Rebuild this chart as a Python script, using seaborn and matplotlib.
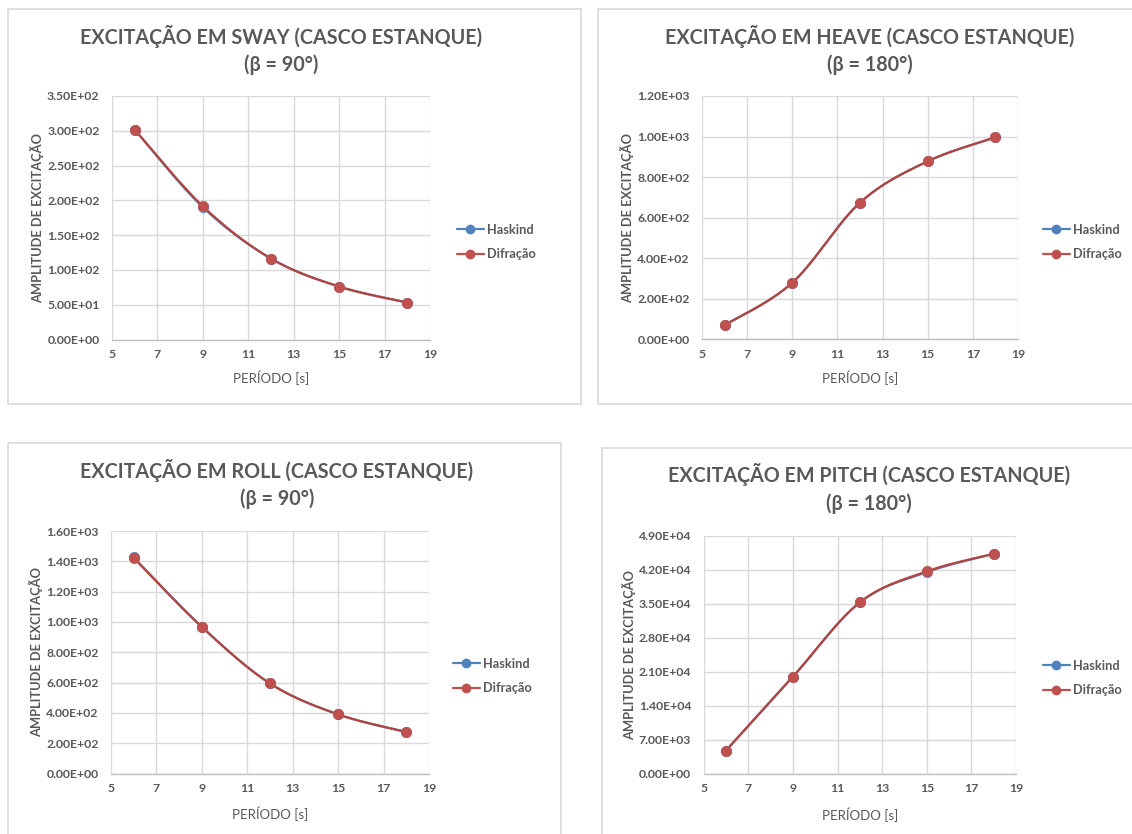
import numpy as np
import matplotlib
matplotlib.use("Agg")
import matplotlib.pyplot as plt
import seaborn as sns
from matplotlib.lines import Line2D
from matplotlib.patches import Rectangle
from matplotlib.ticker import FormatStrFormatter, MultipleLocator

# ---------------- data ----------------
periodo = [6, 9, 12, 15, 18]
x_ticks = [5, 7, 9, 11, 13, 15, 17, 19]

sway_haskind = [301.5, 190.0, 116.3, 76.1, 53.1]
sway_difracao = [301.6, 191.5, 116.3, 76.1, 53.1]

heave_haskind = [70, 279, 674, 878, 996]
heave_difracao = [70, 279, 674, 878, 996]

roll_haskind = [1426, 967, 594, 390, 274]
roll_difracao = [1422, 967, 594, 390, 274]

pitch_haskind = [4780, 20000, 35320, 41550, 45330]
pitch_difracao = [4780, 20000, 35320, 41718, 45330]

titles = [
    ("EXCITAÇÃO EM SWAY (CASCO ESTANQUE)", "(β = 90°)"),
    ("EXCITAÇÃO EM HEAVE (CASCO ESTANQUE)", "(β = 180°)"),
    ("EXCITAÇÃO EM ROLL (CASCO ESTANQUE)", "(β = 90°)"),
    ("EXCITAÇÃO EM PITCH (CASCO ESTANQUE)", "(β = 180°)"),
]
y_max = [350, 1200, 1600, 49000]
y_step = [50, 200, 200, 7000]
series_names = ["Haskind", "Difração"]
xlabel = "PERÍODO [s]"
ylabel = "AMPLITUDE DE EXCITAÇÃO"

# ---------------- style ----------------
sns.set_theme(style="white")
plt.rcParams["font.family"] = ["Lato", "DejaVu Sans"]

BLUE = "#4F81BD"
RED = "#C0504D"
REDLINE = "#B3443F"
TXT = "#595959"
GRID = "#D9D9D9"

W, H = 1132, 834
fig = plt.figure(figsize=(W / 100, H / 100), dpi=100)
fig.patch.set_facecolor("white")


def fx(px):
    return px / W


def fy(py):
    return 1 - py / H


def smooth(xs, ys, n=40):
    # Excel-like smoothed line (Catmull-Rom Bezier)
    p = np.column_stack([xs, ys]).astype(float)
    pts = np.vstack([p[0], p, p[-1]])
    out = []
    t = np.linspace(0, 1, n)[:, None]
    for i in range(1, len(pts) - 2):
        p0, p1, p2, p3 = pts[i - 1], pts[i], pts[i + 1], pts[i + 2]
        c1 = p1 + (p2 - p0) / 6
        c2 = p2 - (p3 - p1) / 6
        seg = ((1 - t) ** 3) * p1 + 3 * ((1 - t) ** 2) * t * c1 + 3 * (1 - t) * t ** 2 * c2 + t ** 3 * p2
        out.append(seg if i == 1 else seg[1:])
    out = np.vstack(out)
    return out[:, 0], out[:, 1]


panels = [
    dict(plot=(112, 430, 96, 339.5), box=(8, 9, 581, 404), tx=281, ty=(36, 65),
         ylx=37, xly=378, leg=(457, 242)),
    dict(plot=(702, 1018, 96, 339.3), box=(598, 9, 1140, 404), tx=870, ty=(36, 65),
         ylx=627, xly=378, leg=(1043, 242)),
    dict(plot=(111, 429, 531, 773.5), box=(8, 443, 561, 840), tx=277, ty=(470, 499),
         ylx=36, xly=814, leg=(453, 676)),
    dict(plot=(703.7, 1016, 536, 773.7), box=(602, 448, 1140, 840), tx=869, ty=(475, 504),
         ylx=629, xly=815, leg=(1043, 678)),
]
data = [
    (sway_haskind, sway_difracao),
    (heave_haskind, heave_difracao),
    (roll_haskind, roll_difracao),
    (pitch_haskind, pitch_difracao),
]

for k, pn in enumerate(panels):
    bx0, by0, bx1, by1 = pn["box"]
    fig.patches.append(Rectangle((fx(bx0), fy(by1)), fx(bx1) - fx(bx0), fy(by0) - fy(by1),
                                 transform=fig.transFigure, fill=False,
                                 edgecolor=GRID, linewidth=1.2, zorder=0))
    x0, x1, yt, yb = pn["plot"]
    ax = fig.add_axes([fx(x0), fy(yb), fx(x1) - fx(x0), fy(yt) - fy(yb)])
    ax.set_facecolor("white")
    hask, difr = data[k]
    for vals, lc, mc in [(hask, BLUE, BLUE), (difr, REDLINE, RED)]:
        sx, sy = smooth(periodo, vals)
        sns.lineplot(x=sx, y=sy, ax=ax, color=lc, linewidth=1.6, sort=False,
                     estimator=None, zorder=3)
        sns.scatterplot(x=periodo, y=vals, ax=ax, color=mc, s=55, edgecolor=mc,
                        linewidth=0.5, zorder=4)
    ax.set_xlim(5, 19)
    ax.set_ylim(0, y_max[k])
    ax.set_xticks(x_ticks)
    ax.yaxis.set_major_locator(MultipleLocator(y_step[k]))
    ax.yaxis.set_major_formatter(FormatStrFormatter("%.2E"))
    ax.grid(True, color=GRID, linewidth=1.0)
    ax.set_axisbelow(True)
    for s in ["top", "right", "left"]:
        ax.spines[s].set_visible(False)
    ax.spines["bottom"].set_color("#BFBFBF")
    ax.spines["bottom"].set_linewidth(1.0)
    ax.tick_params(axis="both", length=0, colors=TXT, labelsize=8.8)
    ax.tick_params(axis="y", pad=9)
    ax.tick_params(axis="x", pad=7)
    for lab in ax.get_xticklabels() + ax.get_yticklabels():
        lab.set_fontweight("bold")
    ax.set_xlabel("")
    ax.set_ylabel("")

    fig.text(fx(pn["tx"]), fy(pn["ty"][0]), titles[k][0], ha="center", va="center",
             fontsize=14.2, fontweight="bold", color=TXT)
    fig.text(fx(pn["tx"]), fy(pn["ty"][1]), titles[k][1], ha="center", va="center",
             fontsize=14.2, fontweight="bold", color=TXT)
    fig.text(fx(pn["ylx"]), fy((yt + yb) / 2), ylabel, rotation=90, ha="center",
             va="center", fontsize=9.3, fontweight="bold", color=TXT)
    fig.text(fx((x0 + x1) / 2), fy(pn["xly"]), xlabel, ha="center", va="center",
             fontsize=9.5, color=TXT)

    handles = [Line2D([0], [0], color=BLUE, marker="o", markersize=6, linewidth=1.6),
               Line2D([0], [0], color=RED, marker="o", markersize=6, linewidth=1.6)]
    leg = ax.legend(handles, series_names, loc="center left",
                    bbox_to_anchor=(fx(pn["leg"][0]), fy(pn["leg"][1])),
                    bbox_transform=fig.transFigure, frameon=False, fontsize=9.2,
                    handlelength=2.1, handletextpad=0.25, labelspacing=0.95,
                    borderaxespad=0, borderpad=0)
    for t in leg.get_texts():
        t.set_color(TXT)
        t.set_fontweight("bold")

fig.savefig("out.png", dpi=100, facecolor="white")
